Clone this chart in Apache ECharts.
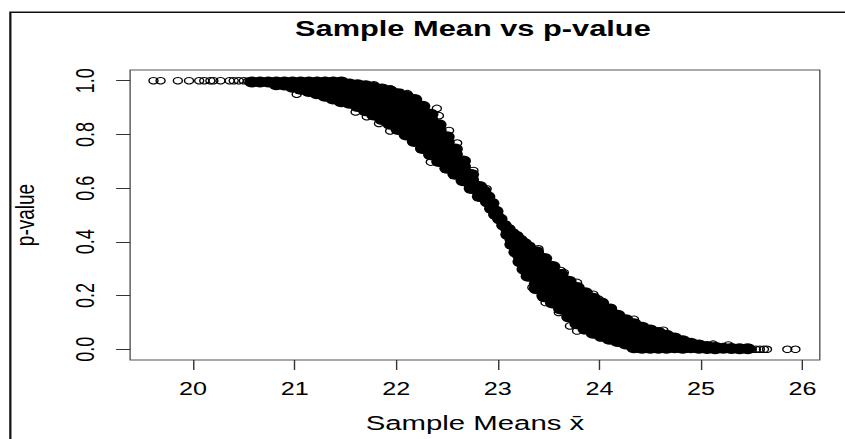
<!DOCTYPE html>
<html>
<head>
<meta charset="utf-8">
<title>Sample Mean vs p-value</title>
<script src="https://cdn.jsdelivr.net/npm/echarts@6/dist/echarts.min.js"></script>
<style>
  html, body { margin: 0; padding: 0; background: #fff; overflow: hidden; }
  /* the source picture is stretched sideways about 1.4x, so draw narrow and stretch */
  #chart { width: 604px; height: 439px; transform: scaleX(1.399); transform-origin: 0 0; }
</style>
</head>
<body>
<div id="chart"></div>
<script>
const FONT = '"Liberation Sans", Arial, Helvetica, sans-serif'

const xTicks = [20, 21, 22, 23, 24, 25, 26]
const yTicks = [0, 0.2, 0.4, 0.6, 0.8, 1.0]

// dense part of the cloud: each row is a sample mean followed by the p-values stacked at it
const band = [
  [20.58, 0.995],
  [20.66, 0.995],
  [20.74, 0.995],
  [20.82, 0.995, 0.985],
  [20.90, 0.995, 0.984],
  [20.98, 0.995, 0.976],
  [21.06, 0.995, 0.98, 0.968],
  [21.14, 0.995, 0.975, 0.96],
  [21.22, 0.995, 0.975, 0.952],
  [21.30, 0.995, 0.975, 0.958, 0.942],
  [21.38, 0.995, 0.975, 0.955, 0.932],
  [21.46, 0.995, 0.975, 0.955, 0.935, 0.922],
  [21.54, 0.988, 0.968, 0.948, 0.93, 0.916],
  [21.62, 0.985, 0.965, 0.945, 0.925, 0.904],
  [21.70, 0.981, 0.961, 0.941, 0.921, 0.9, 0.888],
  [21.78, 0.975, 0.955, 0.935, 0.915, 0.895, 0.872],
  [21.86, 0.969, 0.949, 0.929, 0.909, 0.889, 0.87, 0.856],
  [21.94, 0.962, 0.942, 0.922, 0.902, 0.882, 0.862, 0.838],
  [22.02, 0.952, 0.932, 0.912, 0.892, 0.872, 0.852, 0.835, 0.818],
  [22.10, 0.942, 0.922, 0.902, 0.882, 0.862, 0.842, 0.822, 0.798],
  [22.18, 0.93, 0.91, 0.89, 0.87, 0.85, 0.83, 0.81, 0.79, 0.774],
  [22.26, 0.905, 0.885, 0.865, 0.845, 0.825, 0.805, 0.785, 0.765, 0.748],
  [22.34, 0.875, 0.855, 0.835, 0.815, 0.795, 0.775, 0.755, 0.735, 0.724],
  [22.42, 0.836, 0.816, 0.796, 0.776, 0.756, 0.736, 0.716, 0.699],
  [22.50, 0.791, 0.771, 0.751, 0.731, 0.711, 0.691, 0.674],
  [22.58, 0.746, 0.726, 0.706, 0.686, 0.666, 0.652],
  [22.66, 0.701, 0.681, 0.661, 0.641, 0.628],
  [22.74, 0.651, 0.631, 0.611, 0.599],
  [22.82, 0.606, 0.586, 0.569],
  [22.86, 0.589, 0.57],
  [22.90, 0.568, 0.548],
  [22.94, 0.544, 0.524],
  [22.98, 0.514, 0.502],
  [23.02, 0.485],
  [23.06, 0.462],
  [23.10, 0.447, 0.427],
  [23.14, 0.431, 0.411, 0.39],
  [23.18, 0.421, 0.401, 0.381, 0.361],
  [23.22, 0.406, 0.386, 0.366, 0.346, 0.326],
  [23.26, 0.394, 0.374, 0.354, 0.334, 0.314, 0.298],
  [23.30, 0.382, 0.362, 0.342, 0.322, 0.302, 0.285, 0.272],
  [23.38, 0.363, 0.343, 0.323, 0.303, 0.283, 0.263, 0.243, 0.225],
  [23.46, 0.338, 0.318, 0.298, 0.278, 0.258, 0.238, 0.218, 0.196],
  [23.54, 0.308, 0.288, 0.268, 0.248, 0.228, 0.208, 0.19, 0.172],
  [23.62, 0.278, 0.258, 0.238, 0.218, 0.198, 0.178, 0.16, 0.15],
  [23.70, 0.253, 0.233, 0.213, 0.193, 0.173, 0.153, 0.135, 0.12],
  [23.78, 0.23, 0.21, 0.19, 0.17, 0.15, 0.13, 0.112, 0.095],
  [23.86, 0.21, 0.19, 0.17, 0.15, 0.13, 0.11, 0.092, 0.075],
  [23.94, 0.19, 0.17, 0.15, 0.13, 0.11, 0.09, 0.075, 0.06],
  [24.02, 0.172, 0.152, 0.132, 0.112, 0.092, 0.072, 0.058, 0.048],
  [24.10, 0.15, 0.13, 0.11, 0.09, 0.07, 0.05, 0.037],
  [24.18, 0.127, 0.107, 0.087, 0.067, 0.047, 0.029],
  [24.26, 0.11, 0.09, 0.07, 0.05, 0.033, 0.02],
  [24.34, 0.095, 0.075, 0.055, 0.035, 0.018, 0.006],
  [24.42, 0.082, 0.062, 0.042, 0.022, 0.004],
  [24.50, 0.072, 0.052, 0.034, 0.016, 0.004],
  [24.58, 0.062, 0.042, 0.022, 0.004],
  [24.66, 0.052, 0.034, 0.018, 0.004],
  [24.74, 0.042, 0.024, 0.006],
  [24.82, 0.032, 0.016, 0.004],
  [24.90, 0.022, 0.006],
  [24.98, 0.016, 0.004],
  [25.06, 0.01, 0.003],
  [25.14, 0.007, 0.002],
  [25.22, 0.004],
  [25.30, 0.003],
  [25.38, 0.002],
  [25.46, 0.002]
]

// single circles that stand out from the cloud (tails and edges)
const loosePoints = [
  [19.61, 1.0], [19.68, 1.0], [19.85, 1.0], [19.96, 1.0], [20.06, 1.0], [20.11, 1.0], [20.17, 1.0],
  [20.20, 1.0], [20.27, 1.0], [20.36, 1.0], [20.40, 1.0], [20.45, 1.0], [20.50, 1.0], [20.54, 0.998],
  [21.35, 0.997], [21.78, 0.985], [21.94, 0.97], [22.11, 0.952], [22.40, 0.897], [22.42, 0.87],
  [22.52, 0.815], [22.60, 0.768], [22.76, 0.666], [22.89, 0.598], [23.40, 0.374], [23.62, 0.293],
  [23.65, 0.286], [23.78, 0.249], [23.94, 0.205], [23.99, 0.187], [24.12, 0.155], [24.34, 0.112],
  [24.63, 0.071], [25.12, 0.019], [25.27, 0.016],
  [21.02, 0.95], [21.60, 0.884], [21.71, 0.866], [21.83, 0.841], [21.94, 0.813], [22.34, 0.697],
  [23.25, 0.299], [23.34, 0.23], [23.43, 0.199], [23.47, 0.174], [23.60, 0.137], [23.71, 0.087],
  [23.78, 0.068],
  [25.32, 0.001], [25.50, 0.0], [25.54, 0.0], [25.58, 0.0], [25.62, 0.0], [25.65, 0.0],
  [25.85, 0.0], [25.93, 0.0]
]

const bandData = []
band.forEach(row => {
  for (let i = 1; i < row.length; i++) bandData.push([row[0], row[i]])
})

const chart = echarts.init(document.getElementById('chart'), null, { renderer: 'svg', width: 604, height: 439 })

const option = {
  animation: false,
  backgroundColor: '#fff',
  title: {
    text: 'Sample Mean vs p-value',
    left: 338,
    top: 18,
    padding: 0,
    textAlign: 'center',
    textStyle: { fontFamily: FONT, fontSize: 22, fontWeight: 'bold', color: '#000' }
  },
  grid: { left: 93, right: 18, top: 70, bottom: 79, show: true, borderColor: '#555', borderWidth: 1 },
  xAxis: {
    type: 'value',
    min: 19.38,
    max: 26.17,
    name: 'Sample Means x\u0304',
    nameLocation: 'middle',
    nameGap: 52,
    nameTextStyle: { fontFamily: FONT, fontSize: 21, color: '#000' },
    axisLine: { show: false, onZero: false },
    splitLine: { show: false },
    axisTick: { show: true, length: 10, customValues: xTicks, lineStyle: { color: '#333', width: 1 } },
    axisLabel: { customValues: xTicks, margin: 20, fontFamily: FONT, fontSize: 18, color: '#000' }
  },
  yAxis: {
    type: 'value',
    min: -0.04,
    max: 1.04,
    name: 'p-value',
    nameLocation: 'middle',
    nameGap: 66,
    nameTextStyle: { fontFamily: FONT, fontSize: 19, color: '#000' },
    axisLine: { show: false, onZero: false },
    splitLine: { show: false },
    axisTick: { show: true, length: 10, customValues: yTicks, lineStyle: { color: '#333', width: 1 } },
    axisLabel: {
      customValues: yTicks,
      rotate: 90,
      margin: 23,
      fontFamily: FONT,
      fontSize: 18,
      color: '#000',
      formatter: v => v.toFixed(1)
    }
  },
  graphic: [
    {
      type: 'rect',
      silent: true,
      z: 100,
      shape: { x: 7.4, y: 12.3, width: 700, height: 500 },
      style: { fill: 'none', stroke: '#111', lineWidth: 1.6 }
    }
  ],
  series: [
    {
      type: 'scatter',
      data: bandData,
      symbol: 'circle',
      symbolSize: 11,
      itemStyle: { color: '#000', opacity: 1, borderWidth: 0 },
      silent: true
    },
    {
      type: 'scatter',
      data: loosePoints,
      symbol: 'circle',
      symbolSize: 6.5,
      itemStyle: { color: 'rgba(0,0,0,0)', borderColor: '#000', borderWidth: 1, opacity: 1 },
      silent: true
    }
  ]
}

chart.setOption(option)
</script>
</body>
</html>
